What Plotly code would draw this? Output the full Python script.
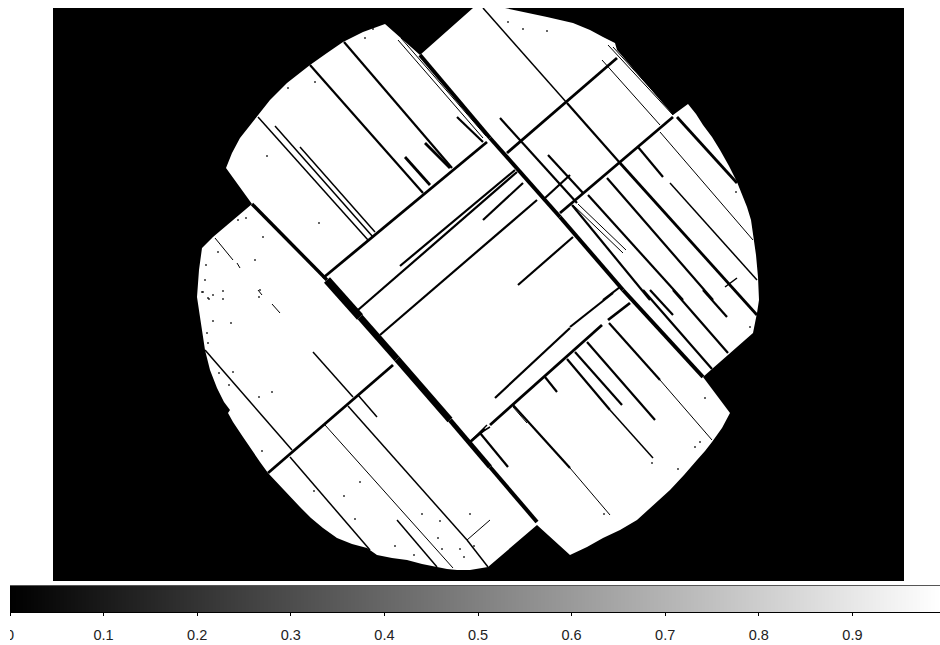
import plotly.graph_objects as go

mask_outline_x = [226,232,240,250,258,270,287,298,310,327,343,363,385,420,473,505,530,547,573,590,603,615,617,673,688,696,703,712,720,729,737,742,747,751,753,756,758,759,757,753,712,703,730,722,712,705,697,684,670,654,637,620,603,587,570,537,488,470,457,447,437,422,407,392,377,367,352,337,323,311,300,284,268,260,253,243,233,228,230,224,217,210,205,203,200,197,199,202,213,252]
mask_outline_y = [168,153,138,125,115,100,83,74,65,53,42,32,24,55,8,8,13,17,23,30,37,43,50,115,104,114,125,137,150,166,182,194,207,220,233,255,277,300,313,333,369,377,413,428,442,451,460,475,490,505,520,530,538,547,555,525,567,570,570,569,567,564,560,558,555,548,544,538,528,518,507,490,473,462,452,437,422,413,410,402,388,370,350,335,317,297,270,248,237,204]

seams_8 = [(327,280,360,317)]
seams_7 = [(360,317,397,359),(397,359,450,420)]
seams_5 = [(450,420,490,467)]
seams_4 = [(490,467,537,522),(420,55,490,138),(490,138,560,217),(560,217,623,290),(623,290,703,377)]
seams_3 = [(252,204,327,280)]
lines_3 = [(323,278,487,142),(507,153,617,58),(560,213,673,117),(268,473,393,365),(470,442,485,429),(490,425,602,325),(608,320,630,303),(620,163,757,315),(677,117,737,183),(405,157,430,185),(425,143,450,168)]
lines_2 = [(358,310,517,172),(400,266,515,170),(483,220,523,183),(518,285,573,237),(495,398,570,328),(570,327,613,293),(603,300,620,287),(545,198,570,175),(500,118,577,203),(588,195,683,300),(673,290,728,353),(548,155,583,193),(572,205,650,300),(643,290,712,369),(513,405,570,468),(480,433,508,467),(545,377,557,392),(567,359,610,410),(575,352,622,405),(587,342,655,420),(609,323,660,380),(310,65,423,193),(344,42,452,168),(457,117,483,142),(567,103,620,163),(380,335,537,200),(638,147,663,177),(650,290,673,315),(607,178,713,300),(703,290,727,317)]
lines_1_5 = [(258,117,368,240),(275,126,373,237),(300,147,375,232),(205,350,292,450),(290,457,370,550),(313,352,353,397),(358,395,377,417),(348,406,467,540),(467,540,488,567),(397,520,437,567),(670,183,757,280),(725,287,737,278),(472,440,487,425),(480,433,490,427),(483,8,567,103),(610,410,653,458)]
lines_1 = [(398,40,483,138),(401,38,486,136),(215,238,233,260),(237,263,240,268),(272,304,280,313),(602,60,660,125),(660,132,753,240),(608,45,673,115),(613,47,673,113),(573,205,623,253),(578,204,626,250),(325,425,453,568),(570,468,610,515),(660,380,712,440),(467,540,490,520),(513,407,527,423),(258,290,262,295)]

specks_x = [373,365,288,315,267,319,263,238,246,218,206,255,205,260,223,202,213,208,508,523,547,736,213,231,207,208,233,219,229,272,259,262,360,314,344,355,422,440,470,438,395,414,442,460,464,474,209,203,223,259,705,695,700,652,678,604,750]
specks_y = [29,38,88,82,156,223,237,220,218,252,265,260,280,290,291,292,295,298,22,29,31,192,321,323,333,343,372,373,385,392,397,451,482,491,496,519,514,521,514,538,546,555,549,549,557,546,299,292,299,297,398,447,442,463,469,514,327]

colorbar_ticks = [0,0.1,0.2,0.3,0.4,0.5,0.6,0.7,0.8,0.9]
colorbar_levels = [0,0.1,0.2,0.3,0.4,0.5,0.6,0.7,0.8,0.9,0.9936]

W, H = 940, 645

def seg(lines):
    xs, ys = [], []
    for a, b, c, d in lines:
        xs += [a, c, None]
        ys += [b, d, None]
    return xs, ys

fig = go.Figure()
fig.add_trace(go.Scatter(x=mask_outline_x, y=mask_outline_y, mode="lines", fill="toself",
                         fillcolor="white", line=dict(width=0, color="white"), hoverinfo="skip"))
for lines, w in [(seams_8, 8), (seams_7, 6.5), (seams_5, 5), (seams_4, 4), (seams_3, 3.4),
                 (lines_3, 2.8), (lines_2, 2.2), (lines_1_5, 1.5), (lines_1, 1)]:
    xs, ys = seg(lines)
    fig.add_trace(go.Scatter(x=xs, y=ys, mode="lines", line=dict(color="black", width=w), hoverinfo="skip"))
fig.add_trace(go.Scatter(x=specks_x, y=specks_y, mode="markers",
                         marker=dict(color="black", size=1.6, symbol="square", line=dict(width=0)), hoverinfo="skip"))
fig.add_trace(go.Heatmap(x=colorbar_levels, y=[0, 1], z=[colorbar_levels, colorbar_levels], xaxis="x2", yaxis="y2",
                         colorscale=[[0, "black"], [1, "white"]], zmin=0, zmax=0.9936, zsmooth="best",
                         showscale=False, hoverinfo="skip"))

fig.update_layout(
    width=W, height=H, margin=dict(l=0, r=0, t=0, b=0, autoexpand=False), showlegend=False,
    paper_bgcolor="white", plot_bgcolor="black",
    font=dict(family="Liberation Sans, Arial, sans-serif", size=14.5, color="#222222"),
    xaxis=dict(domain=[53/W, 904/W], range=[53, 904], visible=False, fixedrange=True),
    yaxis=dict(domain=[1-581/H, 1-8/H], range=[581, 8], visible=False, fixedrange=True),
    xaxis2=dict(domain=[10/W, 1], range=[0, 0.9936], anchor="y2", tickmode="array", automargin=False,
                tickvals=colorbar_ticks, ticktext=["0"]+[str(t) for t in colorbar_ticks[1:]],
                ticks="outside", ticklen=3, tickcolor="black", tickwidth=1, ticklabelstandoff=7,
                showline=True, linecolor="black", linewidth=1, showgrid=False, zeroline=False, fixedrange=True),
    yaxis2=dict(domain=[1-612/H, 1-586/H], range=[0, 1], visible=False, fixedrange=True),
    shapes=[
        dict(type="rect", xref="paper", yref="paper", x0=0, x1=10/W, y0=0, y1=1-582/H,
             fillcolor="white", line=dict(width=0), layer="above"),
        dict(type="line", xref="paper", yref="paper", x0=10/W, x1=1, y0=1-585.5/H, y1=1-585.5/H,
             line=dict(color="#555555", width=1), layer="above"),
    ],
)
fig.write_html("out.html", config=dict(displayModeBar=False),
               post_script="document.body.style.margin='0';")
